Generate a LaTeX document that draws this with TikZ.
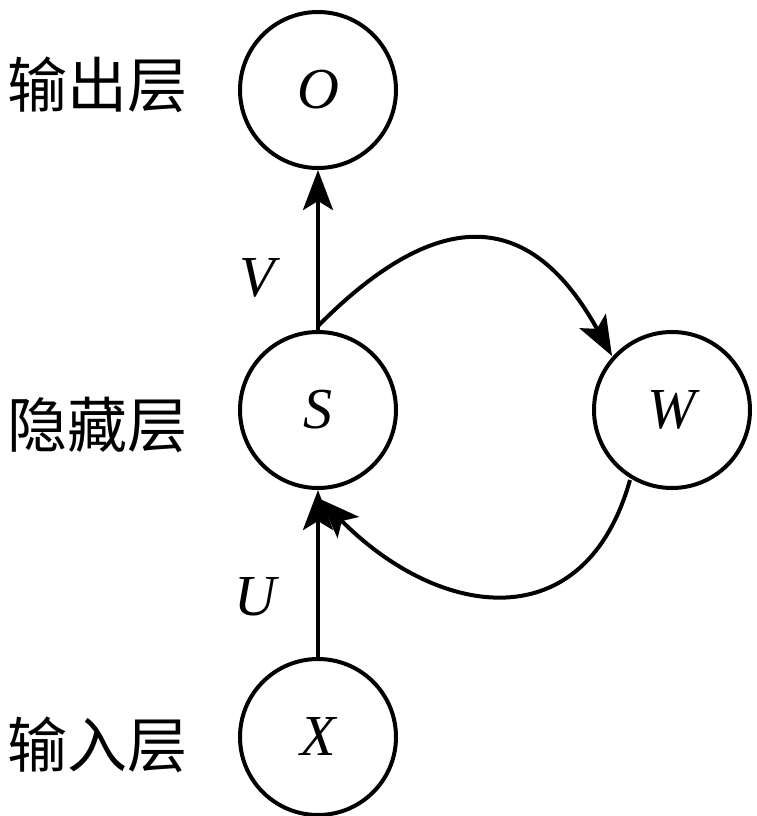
\documentclass[tikz,border=0pt]{standalone}
\usepackage{fontspec}
\setmainfont{Liberation Serif}
\newfontfamily\cjk{Noto Sans CJK SC}
\usetikzlibrary{arrows.meta}
\begin{document}
\begin{tikzpicture}[x=1pt,y=-1pt,
  neuron/.style={draw,circle,line width=4pt,minimum size=156pt,inner sep=0pt,font=\fontsize{58}{62}\selectfont\itshape},
  lbl/.style={font=\fontsize{58}{62}\selectfont\itshape},
  layer/.style={font=\cjk\fontsize{60}{64}\selectfont,inner sep=0pt},
  conn/.style={line width=4pt,-{Stealth[length=40pt,width=30pt,inset=9pt]}}]
\useasboundingbox (0,0) rectangle (756,816);
\node[neuron] (O) at (318,90) {O};
\node[neuron] (S) at (318,410) {S};
\node[neuron] (W) at (672,410) {W};
\node[neuron] (X) at (318,737) {X};
\node[lbl] (V) at (257,278) {V};
\node[lbl] (U) at (255,597) {U};
\node[layer] (lo) at (97,85) {输出层};
\node[layer] (lh) at (97,425) {隐藏层};
\node[layer] (li) at (97,745) {输入层};
\coordinate (sTop) at (318,326);
\coordinate (wIn) at (612,356);
\coordinate (wOut) at (630,480);
\coordinate (sIn) at (320,499);
\draw[conn] (S.north) -- (O.south);
\draw[conn] (X.north) -- (S.south);
\draw[conn] (sTop) .. controls (443,200) and (533,213) .. (wIn);
\draw[conn] (wOut) .. controls (585,640) and (440,620) .. (sIn);
\end{tikzpicture}
\end{document}
